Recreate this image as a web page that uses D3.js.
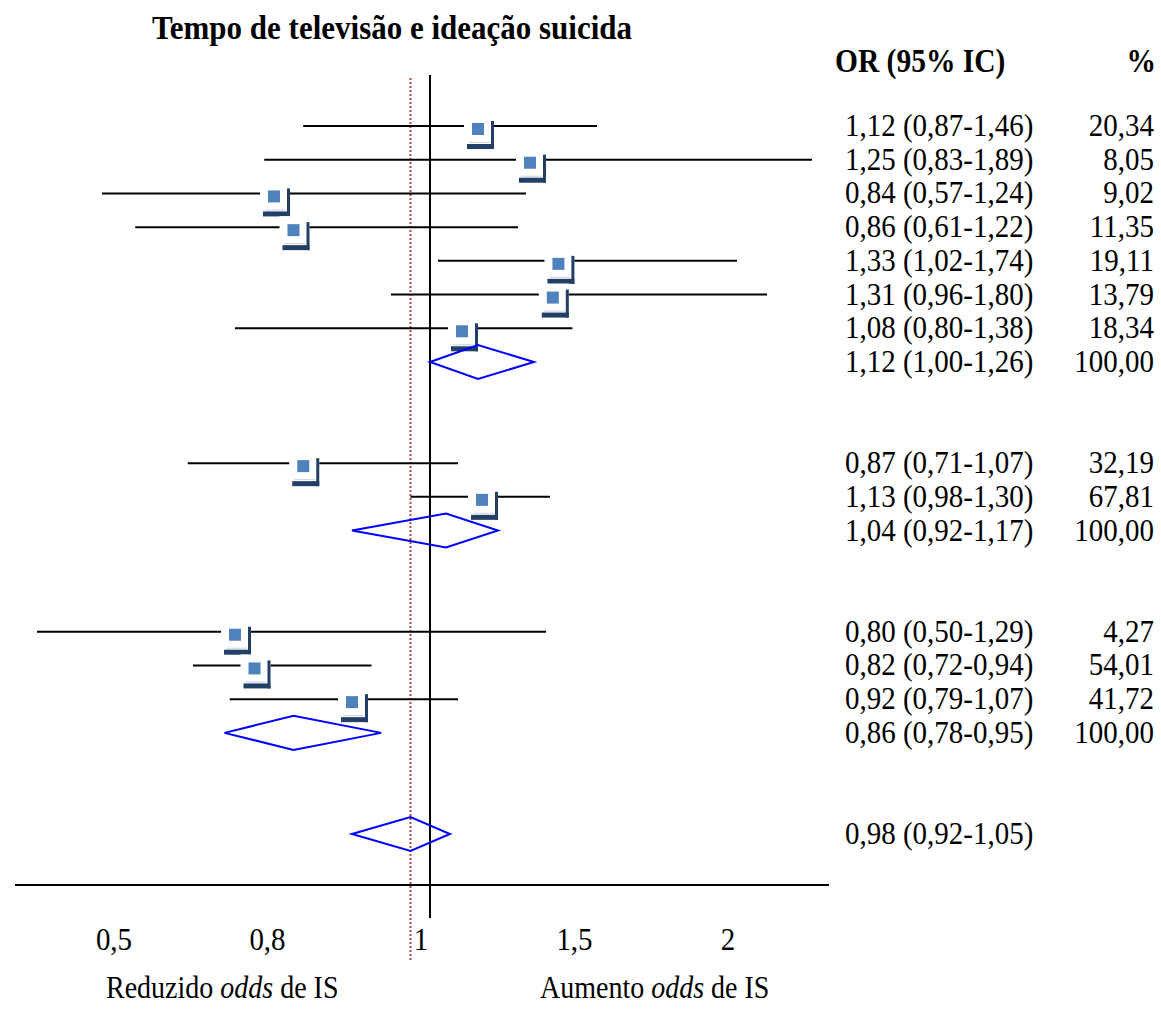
<!DOCTYPE html>
<html lang="pt">
<head>
  <meta charset="UTF-8">
  <title>Tempo de televisão e ideação suicida</title>
  <script src="https://d3js.org/d3.v7.min.js"></script>
  <style>
    body { margin: 0; background: #fff; }
    text { font-family: "Liberation Serif", "Times New Roman", serif; fill: #000; }
  </style>
</head>
<body>

<div id="forest"></div>

<script>
  // odds ratios and 95% CI per line (studies, then subgroup / overall pooled)
  const orEst  = [1.12, 1.25, 0.84, 0.86, 1.33, 1.31, 1.08, 1.12, 0.87, 1.13, 1.04, 0.80, 0.82, 0.92, 0.86, 0.98];
  const orLow  = [0.87, 0.83, 0.57, 0.61, 1.02, 0.96, 0.80, 1.00, 0.71, 0.98, 0.92, 0.50, 0.72, 0.79, 0.78, 0.92];
  const orHigh = [1.46, 1.89, 1.24, 1.22, 1.74, 1.80, 1.38, 1.26, 1.07, 1.30, 1.17, 1.29, 0.94, 1.07, 0.95, 1.05];
  const weights = [20.34, 8.05, 9.02, 11.35, 19.11, 13.79, 18.34, 100, 32.19, 67.81, 100, 4.27, 54.01, 41.72, 100, null];
  const pooled = [false, false, false, false, false, false, false, true, false, false, true, false, false, false, true, true];
  const rowSlot = [0, 1, 2, 3, 4, 5, 6, 7, 10, 11, 12, 15, 16, 17, 18, 21];
  const tickLabels = ["0,5", "0,8", "1", "1,5", "2"];

  const width = 1161, height = 1018;
  const fmt = d3.formatLocale({decimal: ",", thousands: ".", grouping: [3], currency: ["", ""]}).format(".2f");
  const stretch = 1.12; // the original text is a bit taller than it is wide

  const rows = orEst.map((v, i) => ({
    est: v, lo: orLow[i], hi: orHigh[i], w: weights[i], pooled: pooled[i], slot: rowSlot[i]
  }));

  const svg = d3.select("#forest").append("svg")
    .attr("width", width)
    .attr("height", height);

  // x: hand-calibrated odds-ratio axis (the original is not strictly linear)
  const x = d3.scaleLinear()
    .domain([0.5, 0.6, 0.8, 1.0, 1.3, 1.45, 1.8])
    .range([37, 130, 235, 430, 550, 592, 767]);

  const y = d3.scaleLinear().domain([0, 21]).range([126, 834]);

  // tick labels are evenly spaced in the original
  const xt = d3.scalePoint().domain(tickLabels).range([114, 728]);

  const axisY = 885;
  const plotTop = 75;

  // place a text with the vertical stretch
  function label(px, py, size) {
    return svg.append("text")
      .attr("transform", `translate(${px},${py}) scale(1,${stretch})`)
      .style("font-size", size + "px");
  }

  // title
  label(392, 39, 31)
    .attr("text-anchor", "middle")
    .style("font-weight", "bold")
    .text("Tempo de televisão e ideação suicida");

  // column headers
  label(835, 72, 29.5).style("font-weight", "bold").text("OR (95% IC)");
  label(1156, 72, 29.5).attr("text-anchor", "end").style("font-weight", "bold").text("%");

  // reference lines
  svg.append("line")
    .attr("x1", x(orEst[orEst.length - 1])).attr("x2", x(orEst[orEst.length - 1]))
    .attr("y1", plotTop + 3).attr("y2", 962)
    .attr("stroke", "#b04a45").attr("stroke-width", 2)
    .attr("stroke-dasharray", "2,2");

  svg.append("line")
    .attr("x1", x(1)).attr("x2", x(1))
    .attr("y1", plotTop).attr("y2", 918)
    .attr("stroke", "#000").attr("stroke-width", 2);

  svg.append("line")
    .attr("x1", 15).attr("x2", 829)
    .attr("y1", axisY).attr("y2", axisY)
    .attr("stroke", "#000").attr("stroke-width", 2);

  // confidence interval lines for individual studies
  const studies = rows.filter(d => !d.pooled);

  svg.selectAll(".ci")
    .data(studies)
    .enter().append("line")
    .attr("class", "ci")
    .attr("x1", d => x(d.lo)).attr("x2", d => x(d.hi))
    .attr("y1", d => y(d.slot)).attr("y2", d => y(d.slot))
    .attr("stroke", "#000").attr("stroke-width", 2);

  // boxes (white card with dark shadow and blue square)
  const box = svg.selectAll(".box")
    .data(studies)
    .enter().append("g")
    .attr("class", "box")
    .attr("transform", d => `translate(${x(d.est)}, ${y(d.slot) + 3})`);

  box.append("rect")
    .attr("x", -14).attr("y", -14).attr("width", 30).attr("height", 34)
    .attr("fill", "#fff");
  box.append("rect")
    .attr("x", 13).attr("y", -8).attr("width", 3).attr("height", 28)
    .attr("fill", "#243f66");
  box.append("rect")
    .attr("x", -11).attr("y", 15).attr("width", 27).attr("height", 5)
    .attr("fill", "#243f66");
  box.append("line")
    .attr("x1", -9).attr("x2", 12).attr("y1", 13.5).attr("y2", 13.5)
    .attr("stroke", "#c9d3e0").attr("stroke-width", 1);
  box.append("rect")
    .attr("x", -6).attr("y", -6).attr("width", 12).attr("height", 12)
    .attr("fill", "#4f81bd");

  // pooled diamonds
  svg.selectAll(".diamond")
    .data(rows.filter(d => d.pooled))
    .enter().append("path")
    .attr("class", "diamond")
    .attr("d", d => {
      const yc = y(d.slot);
      return `M${x(d.lo)},${yc}L${x(d.est)},${yc - 17}L${x(d.hi)},${yc}L${x(d.est)},${yc + 17}Z`;
    })
    .attr("fill", "none")
    .attr("stroke", "#0000ff")
    .attr("stroke-width", 2);

  // right-hand text columns
  rows.forEach(d => {
    label(845, y(d.slot) + 10, 29)
      .text(`${fmt(d.est)} (${fmt(d.lo)}-${fmt(d.hi)})`);
    if (d.w !== null) {
      label(1154, y(d.slot) + 10, 29)
        .attr("text-anchor", "end")
        .text(fmt(d.w));
    }
  });

  // tick labels
  tickLabels.forEach(t => {
    label(xt(t), 950, 29).attr("text-anchor", "middle").text(t);
  });

  // direction labels
  const left = label(106, 998, 28);
  left.append("tspan").text("Reduzido ");
  left.append("tspan").style("font-style", "italic").text("odds");
  left.append("tspan").text(" de IS");

  const right = label(540, 998, 28);
  right.append("tspan").text("Aumento ");
  right.append("tspan").style("font-style", "italic").text("odds");
  right.append("tspan").text(" de IS");
</script>

</body>
</html>
